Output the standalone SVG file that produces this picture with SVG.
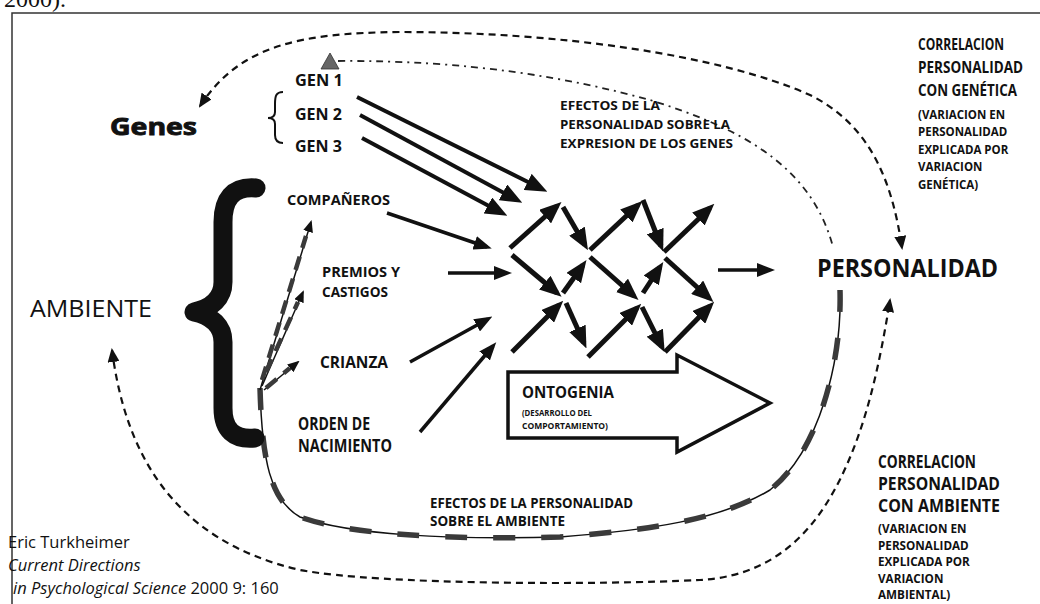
<svg xmlns="http://www.w3.org/2000/svg" width="1040" height="604" viewBox="0 0 1040 604">
<defs>
<style>
.t{font-family:"Open Sans","Liberation Sans",sans-serif;fill:#111}
.b{font-weight:700}
.r{font-weight:400}
.ln{stroke:#111;fill:none}
.net{stroke-width:5;marker-end:url(#ah)}
.env{stroke-width:3.5;marker-end:url(#ahs)}
.gen{stroke-width:4;marker-end:url(#ah)}
.dsh{stroke:#111;fill:none;stroke-width:2.2;stroke-dasharray:7 5;marker-start:url(#dh);marker-end:url(#dh)}
.dd{stroke:#222;fill:none;stroke-width:1.8;stroke-dasharray:7 5 2 5}
.hl{stroke:#111;fill:none;stroke-width:1.5}
.hb{stroke:#3a3a3a;fill:none;stroke-width:5.5;stroke-dasharray:22 26}
.hbs{stroke:#3a3a3a;fill:none;stroke-width:4.5;stroke-dasharray:14 9}
</style>
<marker id="ah" markerUnits="userSpaceOnUse" markerWidth="22" markerHeight="18" viewBox="0 0 22 18" refX="16" refY="9" orient="auto"><path d="M0,0 L22,9 L0,18 z" fill="#111"/></marker>
<marker id="ahs" markerUnits="userSpaceOnUse" markerWidth="18" markerHeight="14" viewBox="0 0 18 14" refX="13" refY="7" orient="auto"><path d="M0,0 L18,7 L0,14 z" fill="#111"/></marker>
<marker id="dh" markerUnits="userSpaceOnUse" markerWidth="14" markerHeight="12" viewBox="0 0 14 12" refX="12" refY="6" orient="auto-start-reverse"><path d="M0,0 L14,6 L0,12 z" fill="#111"/></marker>
<marker id="hh" markerUnits="userSpaceOnUse" markerWidth="12" markerHeight="10" viewBox="0 0 12 10" refX="10" refY="5" orient="auto"><path d="M0,0 L12,5 L0,10 z" fill="#111"/></marker>
</defs>
<rect width="1040" height="604" fill="#fff"/>
<text x="4" y="7" font-family="Liberation Serif, serif" font-size="24" fill="#111">2000).</text>
<path d="M12,604 V13 H1040" fill="none" stroke="#333" stroke-width="1.5"/>

<g id="connectors">
  <path class="dsh" d="M 200,106 C 240,45 300,33 400,32 C 560,32 720,55 810,95 C 870,125 892,180 902,248"/>
  <path class="dsh" d="M 112,350 C 125,450 170,540 300,570 C 380,585 600,585 700,580 C 790,575 830,510 855,445 C 872,400 882,350 890,300"/>
  <path class="dd" d="M 338,61 C 470,60 570,78 650,100 C 730,125 810,160 833,247"/>
  <polygon points="321,69 330,53 339,69" fill="#666" stroke="#333" stroke-width="0.8"/>
  <path class="hl" d="M 840,290 C 842,360 820,450 770,490 C 720,520 650,530 560,537 C 450,540 350,535 300,517 C 270,500 262,460 260,388"/>
  <path class="hb" d="M 840,290 C 842,360 820,450 770,490 C 720,520 650,530 560,537 C 450,540 350,535 300,517 C 270,500 262,460 260,388"/>
  <path class="hl" d="M 260,390 L 311,222" marker-end="url(#hh)"/>
  <path class="hbs" d="M 262,380 L 306,236"/>
  <path class="hl" d="M 262,386 L 303,292" marker-end="url(#hh)"/>
  <path class="hbs" d="M 266,372 L 298,302"/>
  <path class="hl" d="M 264,390 L 298,362" marker-end="url(#hh)"/>
  <path class="hbs" d="M 266,388 L 290,368"/>
  <line class="ln gen" x1="357" y1="97" x2="542" y2="189"/>
  <line class="ln gen" x1="360" y1="115" x2="517" y2="200"/>
  <line class="ln gen" x1="362" y1="138" x2="502" y2="213"/>
  <line class="ln env" x1="387" y1="213" x2="487" y2="247"/>
  <line class="ln env" x1="448" y1="273" x2="507" y2="273"/>
  <line class="ln env" x1="410" y1="362" x2="488" y2="319"/>
  <line class="ln env" x1="420" y1="432" x2="493" y2="346"/>
  <line class="ln net" x1="510" y1="248" x2="557" y2="206"/>
  <line class="ln net" x1="563" y1="207" x2="585" y2="245"/>
  <line class="ln net" x1="512" y1="255" x2="557" y2="293"/>
  <line class="ln net" x1="563" y1="293" x2="583" y2="265"/>
  <line class="ln net" x1="590" y1="250" x2="638" y2="205"/>
  <line class="ln net" x1="590" y1="257" x2="634" y2="296"/>
  <line class="ln net" x1="643" y1="200" x2="661" y2="246"/>
  <line class="ln net" x1="643" y1="293" x2="660" y2="267"/>
  <line class="ln net" x1="664" y1="252" x2="710" y2="208"/>
  <line class="ln net" x1="665" y1="258" x2="709" y2="298"/>
  <line class="ln net" x1="566" y1="303" x2="584" y2="343"/>
  <line class="ln net" x1="512" y1="352" x2="559" y2="305"/>
  <line class="ln net" x1="588" y1="357" x2="637" y2="308"/>
  <line class="ln net" x1="642" y1="307" x2="662" y2="347"/>
  <line class="ln net" x1="665" y1="352" x2="710" y2="306"/>
  <line class="ln env" x1="718" y1="270" x2="770" y2="270"/>
</g>

<g id="genes">
  <text class="t" x="110" y="135" font-family="Liberation Sans, Arial, sans-serif" font-weight="700" font-size="24" stroke="#111" stroke-width="0.9" textLength="87" lengthAdjust="spacingAndGlyphs">Genes</text>
  <path d="M 283,92 C 276,92 275,96 275,104 L 275,112 C 275,116 272,118 268,118 C 272,118 275,120 275,124 L 275,135 C 275,140 277,143 283,143" fill="none" stroke="#111" stroke-width="2"/>
</g>
<g id="gen1"><text class="t b" x="295" y="86" font-size="15.5" textLength="48" lengthAdjust="spacingAndGlyphs">GEN 1</text></g>
<g id="gen2"><text class="t b" x="295" y="120" font-size="15.5" textLength="47" lengthAdjust="spacingAndGlyphs">GEN 2</text></g>
<g id="gen3"><text class="t b" x="295" y="152" font-size="15.5" textLength="47" lengthAdjust="spacingAndGlyphs">GEN 3</text></g>

<g id="ambiente">
  <text class="t r" x="30" y="317" font-size="24.5" textLength="122" lengthAdjust="spacingAndGlyphs">AMBIENTE</text>
  <path d="M 256,188 C 232,186 223,200 223,222 L 223,282 C 223,298 212,308 194,312 C 212,316 223,326 223,342 L 223,408 C 223,430 234,440 255,438" fill="none" stroke="#111" stroke-width="19" stroke-linecap="round" stroke-linejoin="round"/>
</g>
<g id="companeros"><text class="t b" x="287" y="205" font-size="15" textLength="103" lengthAdjust="spacingAndGlyphs">COMPAÑEROS</text></g>
<g id="premios">
  <text class="t b" x="322" y="277" font-size="15" textLength="78" lengthAdjust="spacingAndGlyphs">PREMIOS Y</text>
  <text class="t b" x="322" y="297" font-size="15" textLength="66" lengthAdjust="spacingAndGlyphs">CASTIGOS</text>
</g>
<g id="crianza"><text class="t b" x="320" y="368" font-size="16" textLength="68" lengthAdjust="spacingAndGlyphs">CRIANZA</text></g>
<g id="orden">
  <text class="t b" x="298" y="430" font-size="17" textLength="72" lengthAdjust="spacingAndGlyphs">ORDEN DE</text>
  <text class="t b" x="298" y="452" font-size="17" textLength="94" lengthAdjust="spacingAndGlyphs">NACIMIENTO</text>
</g>

<g id="ontogenia">
  <polygon points="508,372 677,372 677,355 770,403 677,452 677,438 508,438" fill="#fff" stroke="#111" stroke-width="3.5" stroke-linejoin="miter"/>
  <text class="t b" x="522" y="398" font-size="16" textLength="92" lengthAdjust="spacingAndGlyphs">ONTOGENIA</text>
  <text class="t b" x="522" y="416" font-size="9.5" textLength="70" lengthAdjust="spacingAndGlyphs">(DESARROLLO DEL</text>
  <text class="t b" x="522" y="429" font-size="9.5" textLength="86" lengthAdjust="spacingAndGlyphs">COMPORTAMIENTO)</text>
</g>

<g id="personalidad"><text class="t b" x="817" y="277" font-size="25" textLength="181" lengthAdjust="spacingAndGlyphs">PERSONALIDAD</text></g>

<g id="efectos-genes">
  <text class="t b" x="560" y="110" font-size="13" textLength="100" lengthAdjust="spacingAndGlyphs">EFECTOS DE LA</text>
  <text class="t b" x="560" y="129" font-size="13" textLength="170" lengthAdjust="spacingAndGlyphs">PERSONALIDAD SOBRE LA</text>
  <text class="t b" x="560" y="148" font-size="13" textLength="173" lengthAdjust="spacingAndGlyphs">EXPRESION DE LOS GENES</text>
</g>

<g id="efectos-ambiente">
  <text class="t b" x="430" y="508" font-size="14" textLength="203" lengthAdjust="spacingAndGlyphs">EFECTOS DE LA PERSONALIDAD</text>
  <text class="t b" x="430" y="526" font-size="14" textLength="135" lengthAdjust="spacingAndGlyphs">SOBRE EL AMBIENTE</text>
</g>

<g id="corr-genetica">
  <text class="t b" x="918" y="50" font-size="16" textLength="86" lengthAdjust="spacingAndGlyphs">CORRELACION</text>
  <text class="t b" x="918" y="73" font-size="16" textLength="105" lengthAdjust="spacingAndGlyphs">PERSONALIDAD</text>
  <text class="t b" x="918" y="96" font-size="16" textLength="99" lengthAdjust="spacingAndGlyphs">CON GENÉTICA</text>
  <text class="t b" x="918" y="119" font-size="11.5">(VARIACION EN</text>
  <text class="t b" x="918" y="136" font-size="11.5">PERSONALIDAD</text>
  <text class="t b" x="918" y="154" font-size="11.5">EXPLICADA POR</text>
  <text class="t b" x="918" y="171" font-size="11.5">VARIACION</text>
  <text class="t b" x="918" y="189" font-size="11.5">GENÉTICA)</text>
</g>

<g id="corr-ambiente">
  <text class="t b" x="878" y="468" font-size="17" textLength="98" lengthAdjust="spacingAndGlyphs">CORRELACION</text>
  <text class="t b" x="878" y="490" font-size="17" textLength="122" lengthAdjust="spacingAndGlyphs">PERSONALIDAD</text>
  <text class="t b" x="878" y="512" font-size="17" textLength="122" lengthAdjust="spacingAndGlyphs">CON AMBIENTE</text>
  <text class="t b" x="878" y="533" font-size="11.7">(VARIACION EN</text>
  <text class="t b" x="878" y="550" font-size="11.7">PERSONALIDAD</text>
  <text class="t b" x="878" y="566" font-size="11.7">EXPLICADA POR</text>
  <text class="t b" x="878" y="583" font-size="11.7">VARIACION</text>
  <text class="t b" x="878" y="599" font-size="11.7">AMBIENTAL)</text>
</g>

<g id="credit">
  <text class="t r" x="8" y="548" font-size="16.5">Eric Turkheimer</text>
  <text class="t r" x="8" y="571" font-size="16.5" font-style="italic">Current Directions</text>
  <text class="t r" x="13" y="594" font-size="16.5"><tspan font-style="italic">in Psychological Science</tspan> 2000 9: 160</text>
</g>
</svg>
